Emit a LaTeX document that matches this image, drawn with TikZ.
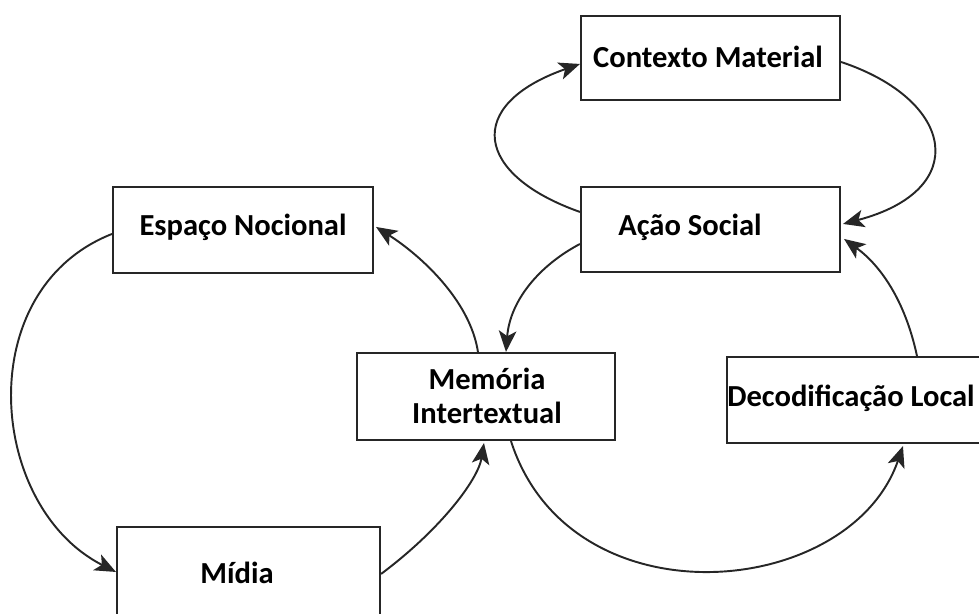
\documentclass[tikz,border=0pt]{standalone}
\usepackage{fontspec}
\setmainfont{Carlito}
\usetikzlibrary{arrows.meta,calc}
\begin{document}
\begin{tikzpicture}[x=0.02cm,y=-0.02cm,
  box/.style={draw=black!85,line width=1.2pt,fill=white,inner sep=0pt},
  lbl/.style={font=\fontsize{17.4}{20}\selectfont\bfseries,inner sep=0pt,align=center},
  conn/.style={draw=black!85,line width=1.1pt,-{Stealth[length=12pt,width=10pt,inset=3pt]}}]
\useasboundingbox (0,0) rectangle (979,614);
\clip (0,0) rectangle (979,614);
% boxes
\node[box,minimum width=5.18cm,minimum height=1.68cm] (cm) at (710.5,58) {};
\node[box,minimum width=5.18cm,minimum height=1.70cm] (as) at (710.5,229.5) {};
\node[box,minimum width=5.20cm,minimum height=1.72cm] (en) at (243,230) {};
\node[box,minimum width=5.16cm,minimum height=1.74cm] (mi) at (486,396.5) {};
\node[box,minimum width=5.46cm,minimum height=1.72cm] (dl) at (863.5,400) {};
\node[box,minimum width=5.26cm,minimum height=1.90cm] (md) at (248.5,574.5) {};
% labels
\node[lbl] (tcm) at (708,57) {Contexto Material};
\node[lbl] (tas) at (690,227) {Ação Social};
\node[lbl] (ten) at (243,227) {Espaço Nocional};
\node[lbl] (tmi) at (487,396) {Memória\\[-1pt]Intertextual};
\node[lbl] (tdl) at (851,398) {Decodificação Local};
\node[lbl] (tmd) at (237,573) {Mídia};
% connectors
\draw[conn] ($(as.north west)+(0,26)$) .. controls (475,175) and (463,105) .. ($(cm.north west)+(0,49)$);
\draw[conn] ($(cm.north east)+(0,47)$) .. controls (955,100) and (972,190) .. ($(as.north east)+(2,38)$);
\draw[conn] ($(as.north west)+(0,58)$) .. controls (540,265) and (510,300) .. ($(mi.north west)+(150,0)$);
\draw[conn] ($(mi.north west)+(122,0)$) .. controls (470,300) and (420,255) .. ($(en.north east)+(2,41)$);
\draw[conn] ($(en.north west)+(0,48)$) .. controls (-30,290) and (-12,507) .. ($(md.north west)+(0,46)$);
\draw[conn] ($(md.north east)+(0,48)$) .. controls (440,530) and (478,480) .. ($(mi.south west)+(128,2)$);
\draw[conn] ($(mi.south west)+(155,0)$) .. controls (570,625) and (850,600) .. ($(dl.south west)+(177,2)$);
\draw[conn] ($(dl.north west)+(191,0)$) .. controls (905,300) and (880,265) .. ($(as.north east)+(3,53)$);
\end{tikzpicture}
\end{document}
